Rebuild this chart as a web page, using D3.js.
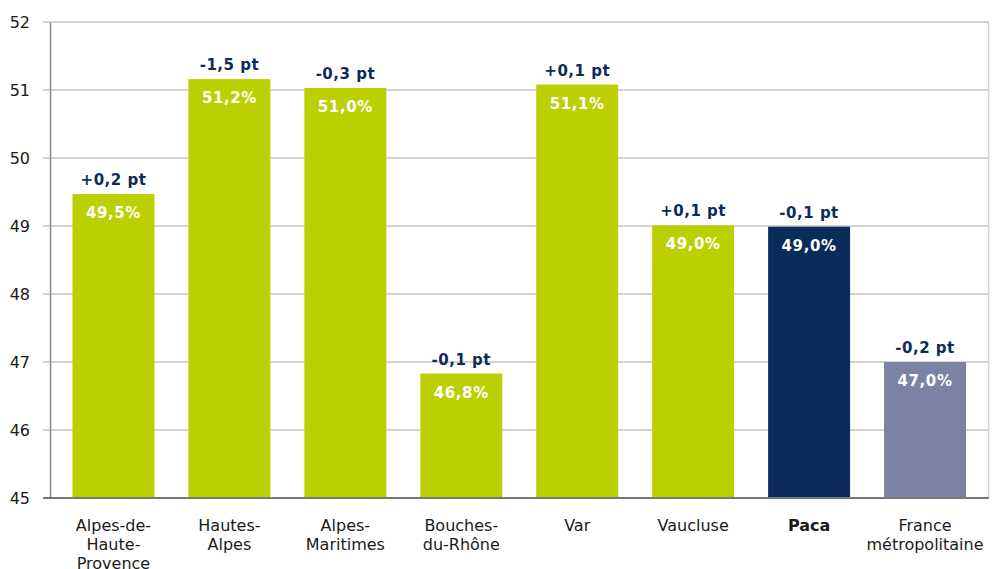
<!DOCTYPE html>
<html>
<head>
<meta charset="utf-8">
<script src="https://cdn.jsdelivr.net/npm/d3@7"></script>
<style>
  body { margin: 0; background: #fff; }
  svg { display: block; font-family: 'DejaVu Sans', sans-serif; }
</style>
</head>
<body>
<svg id="chart" width="993" height="569"></svg>
<script>
const categories = [
  ['Alpes-de-', 'Haute-', 'Provence'],
  ['Hautes-', 'Alpes'],
  ['Alpes-', 'Maritimes'],
  ['Bouches-', 'du-Rhône'],
  ['Var'],
  ['Vaucluse'],
  ['Paca'],
  ['France', 'métropolitaine']
]
const values = [49.47, 51.16, 51.03, 46.83, 51.08, 49.01, 48.99, 47.0]
const valueLabels = ['49,5%', '51,2%', '51,0%', '46,8%', '51,1%', '49,0%', '49,0%', '47,0%']
const deltaLabels = ['+0,2 pt', '-1,5 pt', '-0,3 pt', '-0,1 pt', '+0,1 pt', '+0,1 pt', '-0,1 pt', '-0,2 pt']
const barColors = ['#bccf00', '#bccf00', '#bccf00', '#bccf00', '#bccf00', '#bccf00', '#0b2c5a', '#7c82a4']
const yTicks = [45, 46, 47, 48, 49, 50, 51, 52]

const margin = { top: 22, right: 4, bottom: 71, left: 50 }
const width = 993
const height = 569
const innerW = width - margin.left - margin.right
const innerH = height - margin.top - margin.bottom

const svg = d3.select('#chart')
const g = svg.append('g')
  .attr('transform', 'translate(' + margin.left + ',' + margin.top + ')')

const x = d3.scaleBand()
  .domain(d3.range(categories.length))
  .range([0, innerW - 0.5])
  .paddingInner(0.293)
  .paddingOuter(0.194)

const y = d3.scaleLinear()
  .domain([45, 52])
  .range([innerH, 0])

// gridlines
g.selectAll('.grid')
  .data(yTicks.slice(1))
  .enter().append('line')
    .attr('x1', -7)
    .attr('x2', innerW)
    .attr('y1', d => y(d))
    .attr('y2', d => y(d))
    .attr('stroke', '#d3d3d3')
    .attr('stroke-width', 2)

// right border
g.append('line')
  .attr('x1', innerW - 0.5).attr('x2', innerW - 0.5)
  .attr('y1', y(52)).attr('y2', innerH)
  .attr('stroke', '#d3d3d3').attr('stroke-width', 1.5)

// bars
g.selectAll('.bar')
  .data(values)
  .enter().append('rect')
    .attr('x', (d, i) => x(i))
    .attr('y', d => y(d))
    .attr('width', x.bandwidth())
    .attr('height', d => innerH - y(d))
    .attr('fill', (d, i) => barColors[i])

// y axis
const yAxis = g.append('g')
  .call(d3.axisLeft(y).tickValues(yTicks).tickFormat(d3.format('d')).tickSize(0).tickPadding(20))
yAxis.select('.domain').attr('stroke', '#8a8a8a').attr('stroke-width', 1.5)
yAxis.selectAll('text')
  .attr('font-size', 16)
  .attr('fill', '#1a1a1a')
  .attr('font-family', "'DejaVu Sans', sans-serif")

// bottom axis line
g.append('line')
  .attr('x1', -7).attr('x2', innerW)
  .attr('y1', innerH).attr('y2', innerH)
  .attr('stroke', '#777').attr('stroke-width', 2)

// value labels inside bars
g.selectAll('.val')
  .data(values)
  .enter().append('text')
    .attr('x', (d, i) => x(i) + x.bandwidth() / 2)
    .attr('y', d => y(d) + 24)
    .attr('text-anchor', 'middle')
    .attr('font-size', 15)
    .attr('font-weight', 'bold')
    .attr('letter-spacing', 0.6)
    .attr('fill', '#fff')
    .text((d, i) => valueLabels[i])

// delta labels above bars
g.selectAll('.delta')
  .data(values)
  .enter().append('text')
    .attr('x', (d, i) => x(i) + x.bandwidth() / 2)
    .attr('y', d => y(d) - 9)
    .attr('text-anchor', 'middle')
    .attr('font-size', 15)
    .attr('font-weight', 'bold')
    .attr('letter-spacing', 0.5)
    .attr('fill', '#0b2c5a')
    .text((d, i) => deltaLabels[i])

// category labels
const cat = g.selectAll('.cat')
  .data(categories)
  .enter().append('text')
    .attr('x', (d, i) => x(i) + x.bandwidth() / 2)
    .attr('y', innerH + 33)
    .attr('text-anchor', 'middle')
    .attr('font-size', 16)
    .attr('fill', '#1a1a1a')
    .attr('font-weight', (d, i) => i === 6 ? 'bold' : 'normal')

cat.selectAll('tspan')
  .data(d => d)
  .enter().append('tspan')
    .attr('x', function () { return this.parentNode.getAttribute('x') })
    .attr('dy', (d, i) => i === 0 ? 0 : 19)
    .text(d => d)
</script>
</body>
</html>
